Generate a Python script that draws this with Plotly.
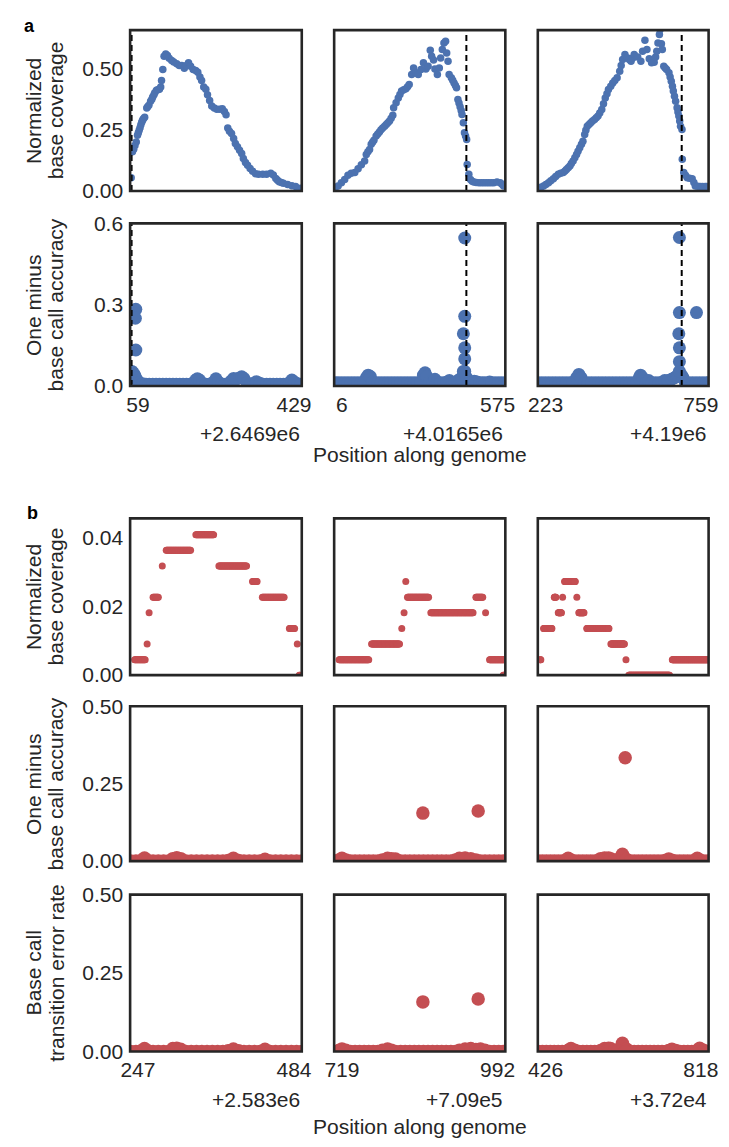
import plotly.graph_objects as go

# ---------------- data ----------------
a_offset_text = ["+2.6469e6", "+4.0165e6", "+4.19e6"]
a_ticks = [[59, 429], [6, 575], [223, 759]]
a_boundary = [44, 461, 693]

b_offset_text = ["+2.583e6", "+7.09e5", "+3.72e4"]
b_ticks = [[247, 484], [719, 992], [426, 818]]

# section a: normalized base coverage (position offset, value)
cov_a1_pos = [43, 46, 49, 52, 55, 58, 60, 62, 64, 66, 68, 70, 72, 75, 80, 82, 85, 89, 92, 94, 97, 99,
              103, 106, 110, 113, 115, 118, 121, 125, 129, 133, 139, 144, 151, 157, 163, 169, 174, 179,
              184, 190, 196, 201, 206, 210, 215, 220, 224, 229, 234, 240, 246, 253, 259, 264, 268, 272,
              276, 281, 286, 290, 295, 300, 305, 309, 314, 319, 325, 331, 338, 345, 355, 364, 374, 380,
              386, 390, 394, 399, 404, 414, 424, 433, 445]
cov_a1_val = [0.054, 0.160, 0.170, 0.185, 0.200, 0.227, 0.237, 0.247, 0.258, 0.270, 0.280, 0.288, 0.294,
              0.300, 0.338, 0.343, 0.349, 0.365, 0.374, 0.383, 0.392, 0.400, 0.410, 0.412, 0.414, 0.423,
              0.450, 0.495, 0.549, 0.558, 0.552, 0.541, 0.531, 0.525, 0.518, 0.511, 0.511, 0.500, 0.511,
              0.522, 0.508, 0.495, 0.491, 0.484, 0.464, 0.450, 0.423, 0.414, 0.392, 0.369, 0.346, 0.338,
              0.333, 0.333, 0.335, 0.324, 0.311, 0.257, 0.243, 0.234, 0.214, 0.193, 0.180, 0.166, 0.153,
              0.132, 0.116, 0.105, 0.092, 0.081, 0.070, 0.068, 0.068, 0.068, 0.072, 0.065, 0.051, 0.044,
              0.038, 0.035, 0.032, 0.027, 0.022, 0.018, 0.011]

cov_a2_pos = [-20, -8, 4, 16, 28, 40, 53, 65, 77, 89, 95, 101, 107, 113, 118, 123, 131, 137, 143, 149,
              155, 162, 168, 174, 180, 186, 192, 195, 204, 212, 218, 224, 232, 240, 246, 252, 261, 268,
              277, 285, 295, 304, 313, 321, 329, 334, 341, 346, 355, 362, 367, 373, 379, 385, 389, 394,
              398, 406, 411, 416, 421, 425, 430, 434, 438, 442, 445, 450, 454, 458, 462, 464, 470, 476,
              482, 488, 497, 507, 516, 525, 534, 543, 552, 561, 573, 585, 591, 597]
cov_a2_val = [0.0095, 0.020, 0.034, 0.047, 0.064, 0.072, 0.075, 0.091, 0.107, 0.122, 0.149, 0.160, 0.169,
              0.190, 0.199, 0.207, 0.224, 0.232, 0.240, 0.249, 0.257, 0.264, 0.271, 0.278, 0.285, 0.296,
              0.308, 0.339, 0.359, 0.379, 0.393, 0.407, 0.412, 0.416, 0.425, 0.434, 0.474, 0.501, 0.481,
              0.474, 0.495, 0.522, 0.497, 0.508, 0.573, 0.549, 0.533, 0.497, 0.474, 0.501, 0.542, 0.576,
              0.603, 0.610, 0.562, 0.528, 0.474, 0.461, 0.451, 0.440, 0.430, 0.420, 0.373, 0.358, 0.343,
              0.328, 0.312, 0.278, 0.237, 0.224, 0.210, 0.108, 0.068, 0.047, 0.040, 0.037, 0.035, 0.034,
              0.034, 0.034, 0.034, 0.034, 0.034, 0.034, 0.037, 0.034, 0.028, 0.020]

cov_a3_pos = [199, 207, 216, 224, 233, 241, 250, 258, 267, 275, 284, 290, 295, 301, 307, 312, 318, 324,
              330, 335, 341, 347, 352, 358, 362, 367, 373, 379, 385, 392, 398, 404, 410, 417, 423, 429,
              435, 440, 448, 455, 462, 470, 479, 484, 489, 497, 506, 512, 518, 524, 529, 541, 552, 558,
              566, 573, 581, 589, 598, 603, 607, 611, 616, 618, 623, 626, 631, 636, 641, 649, 653, 657,
              661, 664, 668, 672, 677, 680, 683, 686, 689, 694, 695, 700, 706, 712, 720, 729, 735, 740,
              748, 757, 765, 774, 780, 786]
cov_a3_val = [0.0095, 0.015, 0.020, 0.027, 0.034, 0.042, 0.050, 0.059, 0.068, 0.072, 0.075, 0.082, 0.088,
              0.095, 0.102, 0.112, 0.122, 0.135, 0.149, 0.162, 0.176, 0.190, 0.203, 0.230, 0.247, 0.264,
              0.271, 0.278, 0.285, 0.291, 0.298, 0.305, 0.318, 0.332, 0.355, 0.379, 0.396, 0.413, 0.427,
              0.440, 0.450, 0.461, 0.488, 0.511, 0.535, 0.556, 0.542, 0.535, 0.528, 0.542, 0.556, 0.546,
              0.528, 0.569, 0.614, 0.576, 0.538, 0.522, 0.524, 0.546, 0.569, 0.603, 0.637, 0.657, 0.600,
              0.576, 0.508, 0.501, 0.495, 0.481, 0.464, 0.447, 0.427, 0.407, 0.386, 0.366, 0.339, 0.322,
              0.305, 0.285, 0.264, 0.251, 0.129, 0.075, 0.064, 0.054, 0.052, 0.050, 0.035, 0.020, 0.019,
              0.018, 0.018, 0.018, 0.018, 0.018]

# section a: one minus base call accuracy
acc_a1_pos = [45, 48, 51, 54, 58, 62, 70, 78, 86, 94, 102, 110, 118, 126, 134, 142, 150, 158, 166, 174,
              182, 190, 196, 200, 205, 212, 220, 228, 236, 244, 250, 258, 266, 274, 280, 286, 292, 300,
              305, 310, 318, 326, 334, 340, 348, 356, 364, 372, 380, 388, 396, 404, 412, 418, 424, 430,
              438, 446, 54, 53, 54]
acc_a1_val = [0.054, 0.048, 0.040, 0.030, 0.020, 0.012, 0.008, 0.007, 0.007, 0.007, 0.007, 0.007, 0.007,
              0.007, 0.007, 0.007, 0.007, 0.007, 0.007, 0.007, 0.007, 0.010, 0.022, 0.027, 0.022, 0.008,
              0.007, 0.007, 0.012, 0.027, 0.015, 0.007, 0.007, 0.008, 0.018, 0.028, 0.025, 0.030, 0.034,
              0.028, 0.012, 0.007, 0.010, 0.016, 0.010, 0.007, 0.007, 0.007, 0.007, 0.007, 0.007, 0.007,
              0.007, 0.012, 0.022, 0.015, 0.008, 0.007, 0.283, 0.250, 0.133]

acc_a2_pos = [-20, -8, 4, 16, 28, 40, 52, 64, 76, 86, 95, 102, 110, 118, 126, 138, 150, 162, 174, 186,
              198, 210, 222, 234, 246, 258, 270, 282, 294, 304, 310, 316, 326, 338, 346, 354, 366, 378,
              390, 399, 410, 420, 430, 438, 444, 450, 462, 470, 480, 490, 500, 510, 520, 530, 546, 554,
              566, 578, 590, 602, 455, 455, 455, 455, 455, 450]
acc_a2_val = [0.012, 0.012, 0.012, 0.012, 0.012, 0.012, 0.012, 0.012, 0.012, 0.014, 0.030, 0.040, 0.035,
              0.015, 0.012, 0.012, 0.012, 0.012, 0.012, 0.012, 0.012, 0.012, 0.012, 0.012, 0.012, 0.012,
              0.012, 0.012, 0.014, 0.040, 0.049, 0.035, 0.014, 0.012, 0.025, 0.012, 0.012, 0.012, 0.015,
              0.020, 0.012, 0.014, 0.020, 0.025, 0.030, 0.054, 0.030, 0.012, 0.014, 0.018, 0.015, 0.012,
              0.012, 0.012, 0.015, 0.012, 0.012, 0.012, 0.012, 0.012, 0.546, 0.257, 0.141, 0.100, 0.054,
              0.193]

acc_a3_pos = [198, 210, 222, 234, 246, 258, 270, 282, 294, 306, 318, 330, 338, 346, 358, 370, 382, 394,
              406, 418, 430, 442, 454, 466, 478, 490, 502, 514, 526, 538, 546, 551, 558, 570, 579, 590,
              602, 614, 626, 634, 646, 658, 667, 675, 680, 692, 698, 706, 718, 730, 742, 754, 766, 778,
              786, 685, 685, 685, 685, 685, 683, 744]
acc_a3_val = [0.012, 0.012, 0.012, 0.012, 0.012, 0.012, 0.012, 0.012, 0.012, 0.012, 0.014, 0.030, 0.043,
              0.030, 0.012, 0.012, 0.012, 0.012, 0.012, 0.012, 0.012, 0.012, 0.012, 0.012, 0.012, 0.012,
              0.012, 0.012, 0.012, 0.014, 0.030, 0.040, 0.030, 0.012, 0.020, 0.012, 0.012, 0.012, 0.014,
              0.020, 0.020, 0.025, 0.030, 0.035, 0.040, 0.040, 0.030, 0.012, 0.012, 0.012, 0.012, 0.012,
              0.012, 0.012, 0.012, 0.548, 0.271, 0.141, 0.090, 0.054, 0.193, 0.271]

# section b: coverage as runs of equal values (start, end, value)
cov_b1_start = [242, 261, 264, 270, 284, 290, 335, 370, 421, 436, 477, 489, 492]
cov_b1_end = [258, 261, 264, 278, 284, 327, 362, 412, 428, 469, 485, 489, 493]
cov_b1_val = [0.0045, 0.0091, 0.0182, 0.0227, 0.0318, 0.0364, 0.0409, 0.0318, 0.0273, 0.0227, 0.0136,
              0.0091, 0.0]

cov_b2_start = [714, 771, 824, 828, 831, 834, 875, 954, 971, 978, 1002]
cov_b2_end = [766, 820, 824, 828, 831, 871, 949, 966, 971, 1006, 1006]
cov_b2_val = [0.0045, 0.0091, 0.0136, 0.0182, 0.0273, 0.0227, 0.0182, 0.0227, 0.0182, 0.0045, 0.0]

cov_b3_start = [412, 421, 448, 458, 469, 474, 505, 510, 530, 591, 629, 636, 746]
cov_b3_end = [414, 442, 452, 466, 469, 501, 505, 523, 586, 625, 629, 739, 838]
cov_b3_val = [0.0045, 0.0136, 0.0227, 0.0182, 0.0227, 0.0273, 0.0227, 0.0182, 0.0136, 0.0091, 0.0045,
              0.0, 0.0045]

# section b: one minus base call accuracy / transition error rate
acc_b1_pos = [236, 244, 252, 257, 262, 270, 278, 286, 294, 300, 306, 312, 320, 328, 336, 344, 352, 360,
              368, 376, 384, 392, 400, 408, 416, 424, 432, 440, 448, 456, 464, 472, 480, 488, 496]
acc_b1_val = [0.0, 0.0, 0.002, 0.010, 0.002, 0.0, 0.0, 0.0, 0.0, 0.008, 0.011, 0.008, 0.0, 0.0, 0.0, 0.0,
              0.0, 0.0, 0.0, 0.0, 0.002, 0.009, 0.002, 0.0, 0.0, 0.0, 0.0, 0.006, 0.0, 0.0, 0.0, 0.0, 0.0,
              0.0, 0.0]
err_b1_val = [0.0, 0.0, 0.002, 0.009, 0.002, 0.0, 0.0, 0.0, 0.0, 0.009, 0.010, 0.007, 0.0, 0.0, 0.0, 0.0,
              0.0, 0.0, 0.0, 0.0, 0.002, 0.008, 0.002, 0.0, 0.0, 0.0, 0.0, 0.007, 0.0, 0.0, 0.0, 0.0, 0.0,
              0.0, 0.0]

acc_b2_pos = [706, 714, 719, 726, 734, 742, 750, 758, 766, 774, 782, 790, 799, 806, 813, 822, 830, 838,
              846, 854, 862, 870, 878, 886, 894, 902, 910, 918, 925, 935, 945, 954, 962, 970, 978, 986,
              994, 1002, 861, 958]
acc_b2_val = [0.0, 0.004, 0.009, 0.004, 0.0, 0.0, 0.0, 0.0, 0.0, 0.0, 0.0, 0.004, 0.009, 0.008, 0.007, 0.0,
              0.0, 0.0, 0.0, 0.0, 0.0, 0.0, 0.0, 0.0, 0.0, 0.0, 0.0, 0.004, 0.009, 0.010, 0.008, 0.004, 0.0,
              0.0, 0.0, 0.0, 0.0, 0.0, 0.155, 0.162]
err_b2_val = [0.0, 0.004, 0.008, 0.004, 0.0, 0.0, 0.0, 0.0, 0.0, 0.0, 0.0, 0.004, 0.008, 0.004, 0.0, 0.0,
              0.0, 0.0, 0.0, 0.0, 0.0, 0.0, 0.0, 0.0, 0.0, 0.0, 0.0, 0.0, 0.004, 0.008, 0.009, 0.006, 0.008,
              0.004, 0.0, 0.0, 0.0, 0.0, 0.158, 0.167]

acc_b3_pos = [408, 418, 428, 438, 448, 458, 468, 478, 483, 490, 500, 510, 520, 530, 540, 550, 560, 565,
              575, 585, 590, 600, 610, 620, 630, 640, 650, 660, 670, 680, 690, 700, 710, 720, 730, 737,
              745, 755, 765, 775, 785, 795, 805, 809, 815, 825, 835, 627]
acc_b3_val = [0.0, 0.0, 0.0, 0.0, 0.0, 0.0, 0.0, 0.004, 0.009, 0.004, 0.0, 0.0, 0.0, 0.0, 0.0, 0.0, 0.003,
              0.008, 0.010, 0.010, 0.008, 0.003, 0.006, 0.022, 0.006, 0.0, 0.0, 0.0, 0.0, 0.0, 0.0, 0.0,
              0.0, 0.0, 0.003, 0.007, 0.003, 0.0, 0.0, 0.0, 0.0, 0.0, 0.004, 0.009, 0.004, 0.0, 0.0, 0.334]
err_b3_val = [0.0, 0.0, 0.0, 0.0, 0.0, 0.0, 0.0, 0.0, 0.004, 0.009, 0.004, 0.0, 0.0, 0.0, 0.0, 0.0, 0.0,
              0.003, 0.009, 0.010, 0.009, 0.003, 0.006, 0.026, 0.008, 0.0, 0.0, 0.0, 0.0, 0.0, 0.0, 0.0,
              0.0, 0.0, 0.0, 0.003, 0.007, 0.003, 0.0, 0.0, 0.0, 0.0, 0.0, 0.004, 0.010, 0.004, 0.0, 0.0]

y_ranges = [[0, 0.655], [0, 0.6], [0, 0.0457], [0, 0.5], [0, 0.5]]
y_tickvals = [[0, 0.25, 0.5], [0, 0.3, 0.6], [0, 0.02, 0.04], [0, 0.25, 0.5], [0, 0.25, 0.5]]
y_ticktext = [["0.00", "0.25", "0.50"], ["0.0", "0.3", "0.6"], ["0.00", "0.02", "0.04"],
              ["0.00", "0.25", "0.50"], ["0.00", "0.25", "0.50"]]
y_titles = [("Normalized", "base coverage"), ("One minus", "base call accuracy"),
            ("Normalized", "base coverage"), ("One minus", "base call accuracy"),
            ("Base call", "transition error rate")]


def expand_runs(starts, ends, vals):
    xs, ys = [], []
    for s, e, v in zip(starts, ends, vals):
        for p in range(s, e + 1):
            xs.append(p)
            ys.append(v)
    return xs, ys


b1x, b1y = expand_runs(cov_b1_start, cov_b1_end, cov_b1_val)
b2x, b2y = expand_runs(cov_b2_start, cov_b2_end, cov_b2_val)
b3x, b3y = expand_runs(cov_b3_start, cov_b3_end, cov_b3_val)

BLUE = "#4C72B0"
RED = "#C44E52"
INK = "#262626"
FONT = "Liberation Sans, Arial, sans-serif"
W, H = 729, 1147

# panel geometry (pixels)
cols_px = [(123.5, 300.0), (333.3, 509.3), (542.7, 718.3)]
rows_px = [(18.5, 182.7), (215.7, 381.7), (516.7, 676.7), (708.5, 866.5), (900.7, 1060.7)]

panels = {
    (0, 0): (cov_a1_pos, cov_a1_val, BLUE, 7.5),
    (0, 1): (cov_a2_pos, cov_a2_val, BLUE, 7.5),
    (0, 2): (cov_a3_pos, cov_a3_val, BLUE, 7.5),
    (1, 0): (acc_a1_pos, acc_a1_val, BLUE, 13),
    (1, 1): (acc_a2_pos, acc_a2_val, BLUE, 13),
    (1, 2): (acc_a3_pos, acc_a3_val, BLUE, 13),
    (2, 0): (b1x, b1y, RED, 7),
    (2, 1): (b2x, b2y, RED, 7),
    (2, 2): (b3x, b3y, RED, 7),
    (3, 0): (acc_b1_pos, acc_b1_val, RED, 13.5),
    (3, 1): (acc_b2_pos, acc_b2_val, RED, 13.5),
    (3, 2): (acc_b3_pos, acc_b3_val, RED, 13.5),
    (4, 0): (acc_b1_pos, err_b1_val, RED, 13.5),
    (4, 1): (acc_b2_pos, err_b2_val, RED, 13.5),
    (4, 2): (acc_b3_pos, err_b3_val, RED, 13.5),
}

fig = go.Figure()
layout = dict(width=W, height=H, margin=dict(l=0, r=0, t=0, b=0),
              paper_bgcolor="white", plot_bgcolor="white", showlegend=False,
              font=dict(family=FONT, size=21, color=INK))
shapes = []
annotations = []

for (r, c), (xs, ys, color, size) in panels.items():
    idx = r * 3 + c + 1
    sfx = "" if idx == 1 else str(idx)
    ticks = a_ticks[c] if r < 2 else b_ticks[c]
    span = ticks[1] - ticks[0]
    xr = [ticks[0] - 0.05 * span, ticks[1] + 0.05 * span]
    fig.add_trace(go.Scatter(x=xs, y=ys, mode="markers", xaxis="x" + sfx, yaxis="y" + sfx,
                             marker=dict(color=color, size=size, line=dict(width=0)),
                             cliponaxis=True, hoverinfo="skip"))
    x0, x1 = cols_px[c]
    y0, y1 = rows_px[r]
    show_x = r in (1, 4)
    layout["xaxis" + sfx] = dict(domain=[x0 / W, x1 / W], anchor="y" + sfx, range=xr,
                                 tickvals=ticks, ticktext=[str(t) for t in ticks],
                                 showticklabels=show_x, ticks="", showgrid=False, zeroline=False,
                                 showline=False, ticklabelstandoff=4,
                                 tickfont=dict(size=21, color=INK, family=FONT))
    layout["yaxis" + sfx] = dict(domain=[1 - y1 / H, 1 - y0 / H], anchor="x" + sfx, range=y_ranges[r],
                                 tickvals=y_tickvals[r], ticktext=y_ticktext[r],
                                 showticklabels=(c == 0), ticks="", showgrid=False, zeroline=False,
                                 showline=False, ticklabelstandoff=6,
                                 tickfont=dict(size=21, color=INK, family=FONT))
    if r < 2:
        shapes.append(dict(type="line", xref="x" + sfx, yref="y" + sfx + " domain",
                           x0=a_boundary[c], x1=a_boundary[c], y0=0, y1=1,
                           line=dict(color="black", width=2, dash="6px,4px"), layer="above"))
    # frame centred on the panel edges, drawn above the markers
    shapes.append(dict(type="rect", xref="x" + sfx + " domain", yref="y" + sfx + " domain",
                       x0=0, x1=1, y0=0, y1=1, line=dict(color=INK, width=2.6),
                       fillcolor="rgba(0,0,0,0)", layer="above"))

# y-axis titles (two lines each, rotated)
for r, (l1, l2) in enumerate(y_titles):
    yc = 1 - (rows_px[r][0] + rows_px[r][1]) / 2 / H
    for txt, xc in ((l1, 24), (l2, 47)):
        annotations.append(dict(text=txt, x=xc / W, y=yc, xref="paper", yref="paper",
                                xanchor="center", yanchor="middle", textangle=-90, showarrow=False,
                                font=dict(size=21, color=INK, family=FONT)))

# offset texts
for c in range(3):
    annotations.append(dict(text=a_offset_text[c], x=cols_px[c][1] / W, y=1 - 430 / H, xref="paper",
                            yref="paper", xanchor="right", yanchor="middle", showarrow=False,
                            font=dict(size=21, color=INK, family=FONT)))
    annotations.append(dict(text=b_offset_text[c], x=cols_px[c][1] / W, y=1 - 1110 / H, xref="paper",
                            yref="paper", xanchor="right", yanchor="middle", showarrow=False,
                            font=dict(size=21, color=INK, family=FONT)))

xmid = (cols_px[1][0] + cols_px[1][1]) / 2 / W
for yp in (452, 1137):
    annotations.append(dict(text="Position along genome", x=xmid, y=1 - yp / H, xref="paper",
                            yref="paper", xanchor="center", yanchor="middle", showarrow=False,
                            font=dict(size=21, color=INK, family=FONT)))

annotations.append(dict(text="<b>a</b>", x=12 / W, y=1 - 14 / H, xref="paper", yref="paper",
                        xanchor="left", yanchor="middle", showarrow=False,
                        font=dict(size=18, color="black", family=FONT)))
annotations.append(dict(text="<b>b</b>", x=15 / W, y=1 - 511 / H, xref="paper", yref="paper",
                        xanchor="left", yanchor="middle", showarrow=False,
                        font=dict(size=18, color="black", family=FONT)))

layout["shapes"] = shapes
layout["annotations"] = annotations
fig.update_layout(**layout)
fig.write_html("out.html")
